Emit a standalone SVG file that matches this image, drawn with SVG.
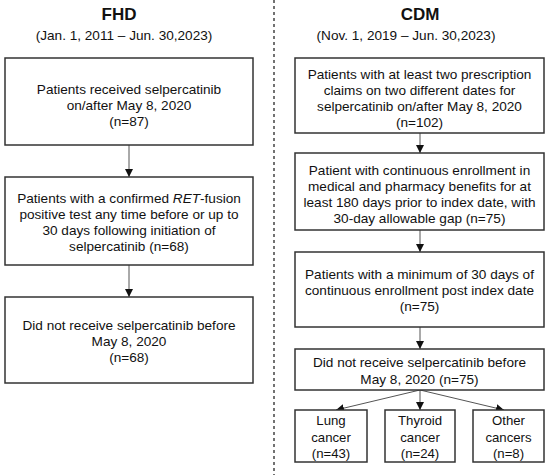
<svg xmlns="http://www.w3.org/2000/svg" width="550" height="475" viewBox="0 0 550 475">
<style>
.box{fill:#fff;stroke:#333;stroke-width:1.5}
.t{font-family:"Liberation Sans",Arial,sans-serif;font-size:13.6px;fill:#111;text-anchor:middle}
.s{font-size:13.2px}
.h{font-family:"Liberation Sans",Arial,sans-serif;font-size:17px;font-weight:bold;fill:#111;text-anchor:middle}
.sub{font-family:"Liberation Sans",Arial,sans-serif;font-size:13.6px;fill:#111;text-anchor:middle}
.c{stroke:#555;stroke-width:1;fill:none;marker-end:url(#ah)}
</style>
<defs>
<marker id="ah" viewBox="0 0 10 10" refX="10" refY="5" markerWidth="8" markerHeight="8" markerUnits="userSpaceOnUse" orient="auto">
<path d="M0,0 L10,5 L0,10 Z" fill="#111"/>
</marker>
</defs>
<rect width="550" height="475" fill="#fff"/>
<line x1="274" y1="0" x2="274" y2="475" stroke="#444" stroke-width="1.5" stroke-dasharray="3,3"/>
<g id="titles">
<text class="h" x="119" y="20">FHD</text>
<text class="sub" x="124" y="40">(Jan. 1, 2011 – Jun. 30,2023)</text>
<text class="h" x="420" y="20">CDM</text>
<text class="sub" x="406" y="40">(Nov. 1, 2019 – Jun. 30,2023)</text>
</g>
<g id="connectors">
<line class="c" x1="129" y1="145" x2="129" y2="177"/>
<line class="c" x1="129" y1="265" x2="129" y2="297"/>
<line class="c" x1="420" y1="133" x2="420" y2="153"/>
<line class="c" x1="420" y1="230" x2="420" y2="252"/>
<line class="c" x1="420" y1="327" x2="420" y2="349"/>
<line class="c" x1="420" y1="390" x2="420" y2="410"/>
<line class="c" x1="420" y1="390" x2="336" y2="410"/>
<line class="c" x1="420" y1="390" x2="504" y2="410"/>
</g>
<g id="fhd1">
<rect class="box" x="5" y="58" width="248" height="87"/>
<text class="t" x="129" y="93.5">Patients received selpercatinib</text>
<text class="t" x="129" y="109.5">on/after May 8, 2020</text>
<text class="t" x="129" y="125.5">(n=87)</text>
</g>
<g id="fhd2">
<rect class="box" x="5" y="177" width="248" height="88"/>
<text class="t" x="129" y="203">Patients with a confirmed <tspan font-style="italic">RET</tspan>-fusion</text>
<text class="t" x="129" y="219">positive test any time before or up to</text>
<text class="t" x="129" y="235">30 days following initiation of</text>
<text class="t" x="129" y="251">selpercatinib (n=68)</text>
</g>
<g id="fhd3">
<rect class="box" x="5" y="297" width="248" height="86"/>
<text class="t" x="129" y="329.5">Did not receive selpercatinib before</text>
<text class="t" x="129" y="345.5">May 8, 2020</text>
<text class="t" x="129" y="361.5">(n=68)</text>
</g>
<g id="cdm1">
<rect class="box" x="295" y="58" width="249" height="75"/>
<text class="t" x="419.5" y="79">Patients with at least two prescription</text>
<text class="t" x="419.5" y="95">claims on two different dates for</text>
<text class="t" x="419.5" y="111">selpercatinib on/after May 8, 2020</text>
<text class="t" x="419.5" y="127">(n=102)</text>
</g>
<g id="cdm2">
<rect class="box" x="295" y="153" width="249" height="77"/>
<text class="t" x="419.5" y="174.5">Patient with continuous enrollment in</text>
<text class="t" x="419.5" y="190.5">medical and pharmacy benefits for at</text>
<text class="t" x="419.5" y="206.5">least 180 days prior to index date, with</text>
<text class="t" x="419.5" y="222.5">30-day allowable gap (n=75)</text>
</g>
<g id="cdm3">
<rect class="box" x="295" y="252" width="249" height="75"/>
<text class="t" x="419.5" y="279">Patients with a minimum of 30 days of</text>
<text class="t" x="419.5" y="295">continuous enrollment post index date</text>
<text class="t" x="419.5" y="311">(n=75)</text>
</g>
<g id="cdm4">
<rect class="box" x="295" y="349" width="249" height="41"/>
<text class="t" x="419.5" y="367">Did not receive selpercatinib before</text>
<text class="t" x="419.5" y="383.5">May 8, 2020 (n=75)</text>
</g>
<g id="lung">
<rect class="box" x="295" y="410" width="72" height="52"/>
<text class="t s" x="331" y="425">Lung</text>
<text class="t s" x="331" y="441.5">cancer</text>
<text class="t s" x="331" y="458">(n=43)</text>
</g>
<g id="thyroid">
<rect class="box" x="385" y="410" width="70" height="52"/>
<text class="t s" x="420" y="425">Thyroid</text>
<text class="t s" x="420" y="441.5">cancer</text>
<text class="t s" x="420" y="458">(n=24)</text>
</g>
<g id="other">
<rect class="box" x="473" y="410" width="71" height="52"/>
<text class="t s" x="508.5" y="425">Other</text>
<text class="t s" x="508.5" y="441.5">cancers</text>
<text class="t s" x="508.5" y="458">(n=8)</text>
</g>
</svg>
